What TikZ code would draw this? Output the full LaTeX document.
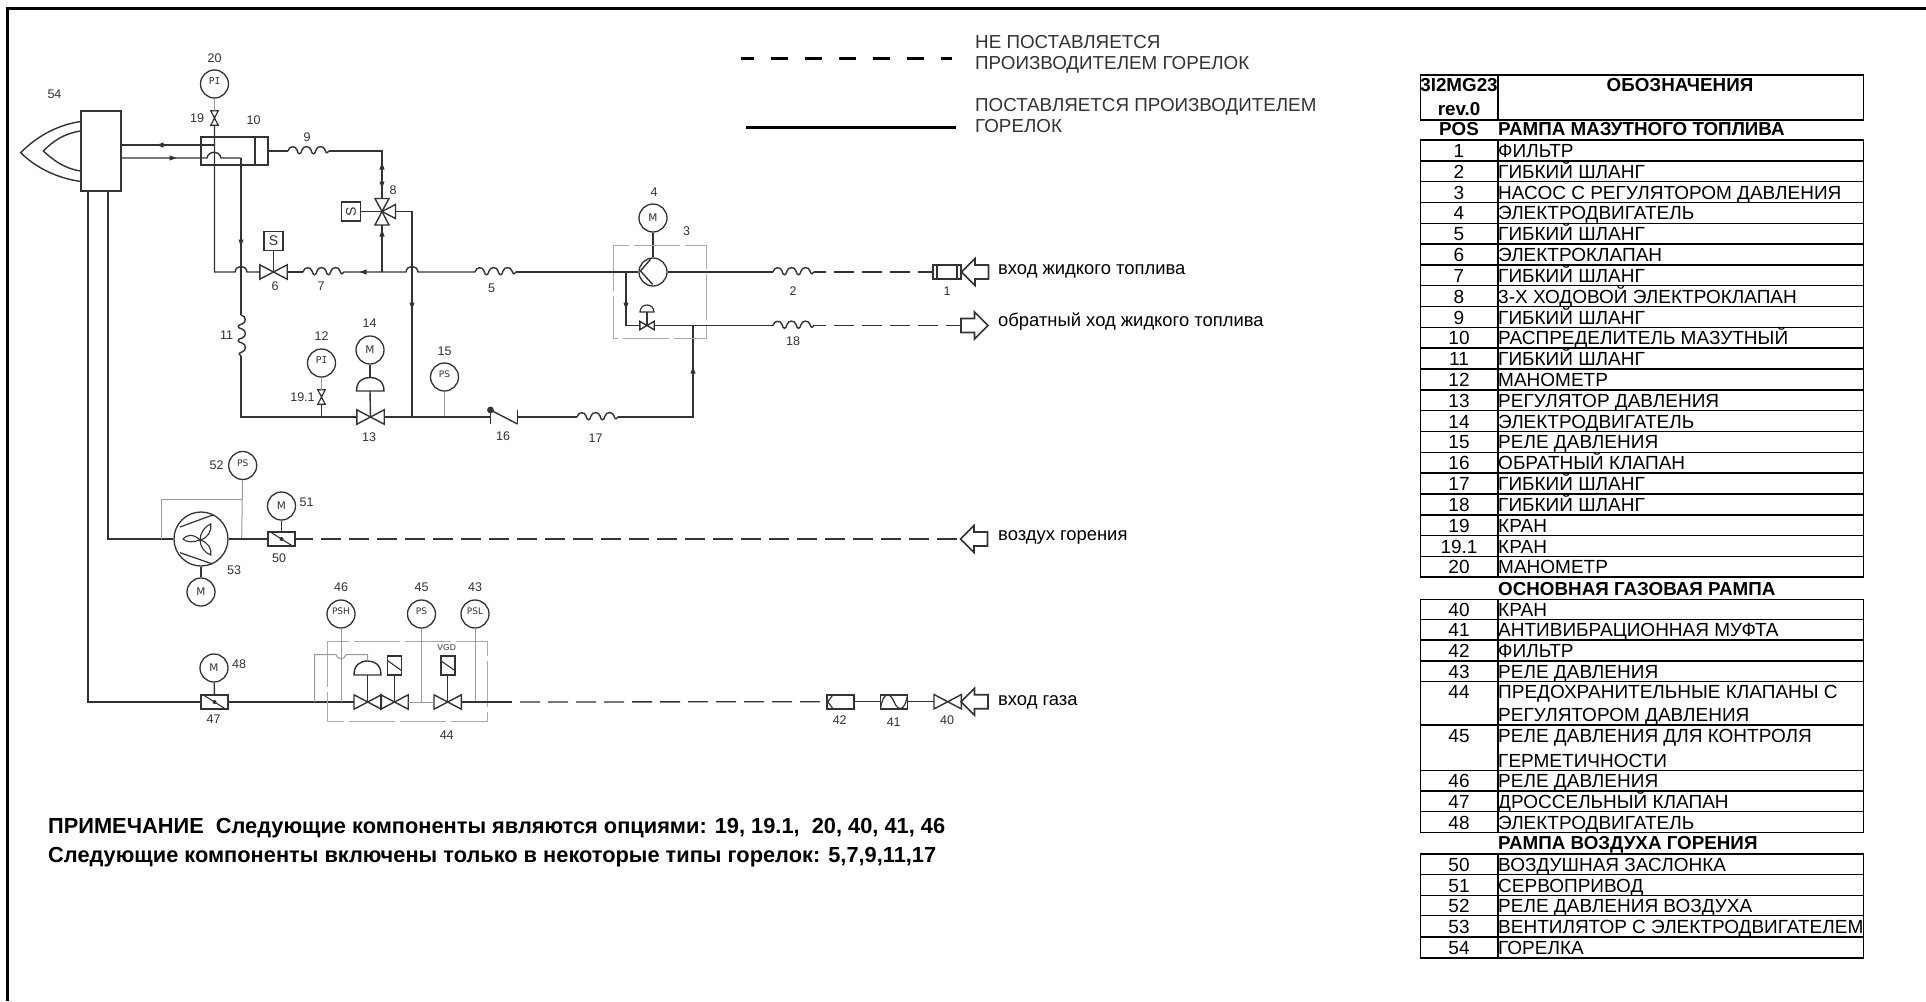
\documentclass[tikz,border=0pt]{standalone}
\usepackage{fontspec}
\setmainfont{Liberation Sans}
\newfontfamily\djv{DejaVu Sans}
\newfontfamily\djm{DejaVu Sans Mono}
\usetikzlibrary{calc}
\definecolor{ink}{HTML}{333333}
\definecolor{thinc}{HTML}{999999}
\definecolor{boxc}{HTML}{AAAAAA}
\tikzset{
 pipe/.style={draw=ink,line width=1.4pt},
 thinl/.style={draw=thinc,line width=1pt},
 boxd/.style={draw=boxc,line width=1pt,dash pattern=on 46pt off 5pt},
 dashl/.style={draw=ink,line width=1.3pt,dash pattern=on 20pt off 8pt},
 lab/.style={inner sep=0pt,text=ink,font=\fontsize{12.5}{14}\selectfont},
 big/.style={inner sep=0pt,anchor=base west,text=black,font=\fontsize{18.4}{20}\selectfont},
 legt/.style={inner sep=0pt,anchor=base west,text=ink,font=\fontsize{18.8}{20}\selectfont},
 notet/.style={inner sep=0pt,anchor=base west,text=black,font=\fontsize{21.8}{24}\selectfont\bfseries},
 tnum/.style={inner sep=0pt,anchor=base,text=black,font=\fontsize{19}{20}\selectfont},
 ttxt/.style={inner sep=0pt,anchor=base west,text=black,font=\fontsize{19}{20}\selectfont},
 tbn/.style={inner sep=0pt,anchor=base,text=black,font=\fontsize{18.8}{20}\selectfont\bfseries},
 tbt/.style={inner sep=0pt,anchor=base west,text=black,font=\fontsize{18.8}{20}\selectfont\bfseries},
 instr/.style={circle,draw=ink,line width=1.3pt,minimum size=28pt,inner sep=0pt,text=ink,fill=white},
 sbox/.style={rectangle,draw=ink,line width=1.4pt,minimum size=19pt,inner sep=0pt,text=ink,font=\fontsize{14}{14}\selectfont},
 dev/.style={rectangle,draw=ink,line width=1.6pt,inner sep=0pt},
 ghost/.style={rectangle,inner sep=0pt},
 tline/.style={draw=black,line width=1.5pt},
}
% labels
\newcommand{\lbl}[4]{\node[lab] (#1) at (#2,#3) {#4};}
% instruments
\newcommand{\mot}[3]{\node[instr,font=\djv\fontsize{10.5}{11}\selectfont] (#1) at (#2,#3) {M};}
\newcommand{\psw}[4]{\node[instr,font=\djv\fontsize{9}{10}\selectfont] (#1) at (#2,#3) {\raisebox{5pt}{#4}};}
\newcommand{\pind}[3]{\node[instr,font=\djm\fontsize{9.5}{10}\selectfont] (#1) at (#2,#3) {\raisebox{5pt}{PI}};}
% horizontal bowtie valve: name,x,y,width,height
\newcommand{\valH}[5]{\node[ghost,minimum width=#4pt,minimum height=#5pt] (#1) at (#2,#3) {};
 \draw[pipe,line join=miter] (#1.north west) -- (#1.south east) -- (#1.north east) -- (#1.south west) -- cycle;}
\newcommand{\valV}[5]{\node[ghost,minimum width=#4pt,minimum height=#5pt] (#1) at (#2,#3) {};
 \draw[pipe,line join=miter,line width=1.2pt] (#1.north west) -- (#1.north east) -- (#1.south west) -- (#1.south east) -- cycle;}
% coil, name,x,y
\newcommand{\coilshape}{(0,0) .. controls (1,-5.5) and (8,-5.5) .. (9,-1) .. controls (10,4) and (13,4) .. (14,-1) .. controls (15,-5.5) and (22,-5.5) .. (23,-1) .. controls (24,4) and (27,4) .. (28,-1) .. controls (29,-5.5) and (36,-5.5) .. (37,-1) .. controls (38,3) and (40,2) .. (41,0)}
\newcommand{\coilH}[3]{\coordinate (#1l) at (#2,#3); \coordinate (#1r) at ({#2+41},#3);
 \begin{scope}[shift={(#2,#3)}]\draw[pipe] \coilshape;\end{scope}}
\newcommand{\coilV}[3]{\coordinate (#1l) at (#2,#3); \coordinate (#1r) at (#2,{#3+41});
 \begin{scope}[shift={(#2,#3)},rotate=-90]\draw[pipe] \coilshape;\end{scope}}
% small filled arrow tip at x,y pointing angle
\newcommand{\tipa}[3]{\begin{scope}[shift={(#1,#2)},rotate=#3]\fill[ink] (3.5,0) -- (-3.5,-2.6) -- (-3.5,2.6) -- cycle;\end{scope}}
% big hollow arrow pointing left, tip at name
\newcommand{\bigin}[3]{\coordinate (#1) at (#2,#3);
 \begin{scope}[shift={(#2,#3)}]\draw[pipe,line width=1.6pt,line join=miter] (0,0) -- (13.5,-13.5) -- (13.5,-7) -- (27,-7) -- (27,7) -- (13.5,7) -- (13.5,13.5) -- cycle;\end{scope}}
% damper
\newcommand{\damper}[3]{\node[dev,minimum width=27pt,minimum height=14pt] (#1) at (#2,#3) {};
 \draw[pipe,line width=1.1pt] (#1.north west) ++(2,0) -- ($(#1.south east)+(-2,0)$);
 \fill[ink] (#1.center) circle (2pt);}
% solenoid
\newcommand{\solen}[3]{\node[dev,minimum width=14pt,minimum height=19pt] (#1) at (#2,#3) {};
 \draw[pipe,line width=1.1pt] ($(#1.center)+(-7,-5)$) -- ($(#1.center)+(7,5)$);}
% hump
\newcommand{\hmp}{.. controls +(1,-7.5) and +(-1,-7.5) ..}
% table rows
\newcommand{\trow}[5]{\draw[tline] (1420.7,#2) rectangle (1863.5,#3); \draw[tline] (1498,#2) -- (1498,#3);
 \node[tnum] (n#1) at (1459,{#3-3.4}) {#4}; \node[ttxt] (t#1) at (1498,{#3-3.4}) {#5};}
\newcommand{\trowii}[6]{\draw[tline] (1420.7,#2) rectangle (1863.5,#3); \draw[tline] (1498,#2) -- (1498,#3);
 \node[tnum] (n#1) at (1459,{#2+17}) {#4}; \node[ttxt] (t#1) at (1498,{#2+17}) {#5}; \node[ttxt] (u#1) at (1498,{#3-3.4}) {#6};}
\begin{document}
\begin{tikzpicture}[x=1pt,y=-1pt]
\useasboundingbox (0,0) rectangle (1926,1001);
\fill[white] (0,0) rectangle (1926,1001);
% frame
\coordinate (fbl) at (7.5,1001); \coordinate (ftl) at (7.5,8.5); \coordinate (ftr) at (1926,8.5);
\draw[black,line width=3pt] (fbl) -- (ftl) -- (ftr);
% legend
\coordinate (lda) at (741,58); \coordinate (ldb) at (952,58);
\coordinate (lsa) at (746,127); \coordinate (lsb) at (956,127);
\draw[black,line width=3pt,dash pattern=on 17.5pt off 16.5pt,dash phase=4.5pt] (lda) -- (ldb);
\draw[black,line width=3pt] (lsa) -- (lsb);
\node[legt] (lg1) at (975,48) {НЕ ПОСТАВЛЯЕТСЯ};
\node[legt] (lg2) at (975,69) {ПРОИЗВОДИТЕЛЕМ ГОРЕЛОК};
\node[legt] (lg3) at (975,111) {ПОСТАВЛЯЕТСЯ ПРОИЗВОДИТЕЛЕМ};
\node[legt] (lg4) at (975,132) {ГОРЕЛОК};
% burner 54
\node[dev,draw=ink,minimum width=40pt,minimum height=80pt] (b54) at (101,151) {};
\coordinate (bo1) at (81,121.5); \coordinate (bo2) at (20.7,152.7); \coordinate (bo3) at (81,181.5);
\coordinate (bi1) at (81,131); \coordinate (bi2) at (43.3,151); \coordinate (bi3) at (81,171);
\draw[pipe] (bo1) .. controls (55,125) and (34,139) .. (bo2) .. controls (34,166) and (55,178) .. (bo3);
\draw[pipe] (bi1) .. controls (65,133) and (53,141) .. (bi2) .. controls (53,160) and (65,169) .. (bi3);
\lbl{l54}{54.5}{94}{54}
% distributor 10
\node[dev,minimum width=67pt,minimum height=28pt] (d10) at (234.5,151) {};
\coordinate (di) at (255,137); \coordinate (dj) at (255,165);
\draw[pipe] (di) -- (dj);
\lbl{l10}{253.5}{120.5}{10}
\coordinate (p145a) at (121,145); \coordinate (p145b) at (214,145);
\coordinate (p158a) at (121,158); \coordinate (h214l) at (207,158); \coordinate (h214r) at (221,158); \coordinate (c241) at (241,158);
\draw[pipe] (p145a) -- (p145b);
\draw[pipe] (p158a) -- (h214l) \hmp (h214r) -- (c241);
\tipa{160}{145}{180}
\tipa{173}{158}{0}
% PI 20 & valve 19
\pind{pi20}{214.5}{84}
\lbl{l20}{214.5}{58}{20}
\valV{v19}{214.5}{118}{7}{14}
\draw[thinl] (pi20) -- (v19);
\lbl{l19}{197}{118}{19}
% vertical x=214 to row y=272
\coordinate (c214) at (214.5,272);
\coordinate (h241l) at (235,272); \coordinate (h241r) at (247,272);
\valH{v6}{273.5}{272}{27}{14}
\draw[pipe] (v19.south) -- (c214) -- (h241l) \hmp (h241r) -- (v6.west);
\node[sbox] (s6) at (273.5,241) {S};
\draw[pipe] (s6) -- (v6.center);
\lbl{l6}{275}{286.5}{6}
\coilH{c7}{303}{272}
\draw[pipe] (v6.east) -- (c7l);
\lbl{l7}{321}{286.5}{7}
\coordinate (j382) at (382,272);
\coordinate (h412l) at (406,272); \coordinate (h412r) at (418,272);
\coilH{c5}{475}{272}
\draw[pipe] (c7r) -- (j382) -- (h412l) \hmp (h412r) -- (c5l);
\tipa{363}{272}{180}
\lbl{l5}{491.5}{288.5}{5}
% coil 9, valve 8
\coilH{c9}{288}{151}
\draw[pipe] (d10.east) -- (c9l);
\lbl{l9}{307}{137}{9}
\coordinate (v8) at (382,211.5);
\coordinate (v8t) at (382,198.5); \coordinate (v8b) at (382,225); \coordinate (v8r) at (395.5,211.5);
\coordinate (c382) at (382,151);
\draw[pipe] (c9r) -- (c382) -- (v8t);
\tipa{382}{166}{90}
\tipa{382}{185}{-90}
\draw[pipe,line join=miter] (v8) -- ($(v8t)+(-7,0)$) -- ($(v8t)+(7,0)$) -- cycle;
\draw[pipe,line join=miter] (v8) -- ($(v8b)+(-7,0)$) -- ($(v8b)+(7,0)$) -- cycle;
\draw[pipe,line join=miter] (v8) -- ($(v8r)+(0,-7)$) -- ($(v8r)+(0,7)$) -- cycle;
\node[sbox,font=\fontsize{14}{14}\selectfont] (s8) at (351,211.5) {\rotatebox{90}{S}};
\draw[pipe] (s8) -- (v8);
\draw[pipe] (j382) -- (v8b);
\tipa{382}{233}{90}
\lbl{l8}{393}{190}{8}
% return via x=412
\coordinate (c412) at (412,211.5); \coordinate (j412) at (412,417);
\draw[pipe] (v8r) -- (c412) -- (j412);
\tipa{412}{306}{-90}
% x=241 down, coil 11
\coordinate (c241b) at (241,315);
\draw[pipe] (c241) -- (c241b);
\tipa{241}{243}{-90}
\coilV{c11}{241}{315}
\coordinate (c241c) at (241,417);
\lbl{l11}{226.5}{335.5}{11}
% bottom line
\valH{v13}{370.5}{417}{27}{14}
\draw[pipe] (c11r) -- (c241c) -- (v13.west);
\mot{m14}{370}{350}
\lbl{l14}{369.5}{323.5}{14}
\coordinate (dm13a) at (356.5,391); \coordinate (dm13b) at (384,391); \coordinate (dm13c) at (370,391); \coordinate (dm13t) at (370,377.5);
\draw[pipe] (m14) -- (dm13t);
\draw[pipe] (dm13a) .. controls (356.5,381) and (363,377.5) .. (dm13t) .. controls (377,377.5) and (384,381) .. (dm13b) -- cycle;
\draw[pipe] (dm13c) -- (v13.center);
\lbl{l13}{369}{437}{13}
\pind{pi12}{321.5}{363}
\lbl{l12}{321.5}{336.5}{12}
\valV{v191}{321.5}{397}{7}{14}
\coordinate (j321) at (321.5,417);
\draw[thinl] (pi12) -- (v191);
\draw[pipe,line width=1.1pt] (v191.south) -- (j321);
\lbl{l191}{302.5}{397}{19.1}
\psw{ps15}{444.5}{377}{PS}
\lbl{l15}{444.5}{351}{15}
\coordinate (j444) at (444.5,417);
\draw[thinl] (ps15) -- (j444);
% check valve 16
\coordinate (k1) at (490.5,410); \coordinate (k1b) at (490.5,424); \coordinate (k2) at (517.5,424); \coordinate (k2t) at (517.5,410);
\coordinate (k1m) at (490.5,417); \coordinate (k2m) at (517.5,417);
\draw[pipe] (v13.east) -- (k1m);
\draw[pipe] (k1) -- (k1b);
\draw[pipe] (k1) -- (k2);
\draw[pipe] (k2t) -- (k2);
\fill[ink] (k1) circle (3.4pt);
\lbl{l16}{503}{436.5}{16}
\coilH{c17}{577}{417}
\draw[pipe] (k2m) -- (c17l);
\lbl{l17}{595.5}{438.5}{17}
\coordinate (c693) at (693,417); \coordinate (j693) at (693,325.5);
\draw[pipe] (c17r) -- (c693) -- (j693);
\tipa{693}{370}{90}
% pump
\node[instr] (p3) at (653,272) {};
\mot{m4}{653}{218}
\draw[pipe] (m4) -- (p3);
\coordinate (pa) at (650.7,259); \coordinate (pb) at (640.5,271); \coordinate (pc) at (652.7,284.5);
\draw[pipe] (pa) -- (pb) -- (pc);
\lbl{l4}{654}{192}{4}
\lbl{l3}{686.5}{231}{3}
\coordinate (bx3a) at (613.5,245); \coordinate (bx3b) at (706.5,338);
\draw[boxd] (bx3a) rectangle (bx3b);
\draw[pipe] (c5r) -- (p3);
\coilH{c2}{773}{272}
\draw[pipe] (p3) -- (c2l);
\lbl{l2}{793}{291}{2}
\coordinate (j626) at (626,272); \coordinate (c626) at (626,325.5);
\valH{v3}{647}{325.5}{14}{8}
\draw[pipe] (j626) -- (c626) -- (v3.west);
\tipa{626}{306}{-90}
\coordinate (dm3a) at (640,312); \coordinate (dm3b) at (654,312); \coordinate (dm3c) at (647,312); \coordinate (dm3t) at (647,305);
\draw[pipe,line width=1.2pt] (dm3a) .. controls (640,308) and (643,305) .. (dm3t) .. controls (651,305) and (654,308) .. (dm3b) -- cycle;
\draw[pipe,line width=1.2pt] (dm3c) -- (v3.center);
\coilH{c18}{773}{325.5}
\draw[pipe] (v3.east) -- (c18l);
\lbl{l18}{793}{341.5}{18}
% filter 1, inlet
\node[dev,minimum width=28pt,minimum height=14pt] (f1) at (947,272) {};
\coordinate (f1a) at (937,265); \coordinate (f1b) at (937,279); \coordinate (f1c) at (957,265); \coordinate (f1d) at (957,279);
\draw[pipe,line width=1.1pt] (f1a) -- (f1b);
\draw[pipe,line width=1.1pt] (f1c) -- (f1d);
\draw[dashl,dash phase=8pt] (c2r) -- (f1.west);
\lbl{l1}{947}{291}{1}
\bigin{a1}{961.5}{272}
\node[big] (t1) at (998,274) {вход жидкого топлива};
% return arrow
\coordinate (a2) at (961,325.5);
\coordinate (a2a) at (974.5,325.5);
\begin{scope}[shift={(a2)}]\draw[pipe,line width=1.6pt,line join=miter] (0,-7) -- (13.5,-7) -- (13.5,-13.5) -- (27,0) -- (13.5,13.5) -- (13.5,7) -- (0,7) -- cycle;\end{scope}
\draw[dashl,dash phase=8pt] (c18r) -- (a2);
\node[big] (t2) at (998,326) {обратный ход жидкого топлива};
% air line
\node[instr,minimum size=54pt] (f53) at (201,539) {};
\coordinate (c108t) at (108,191); \coordinate (c108b) at (108,539);
\draw[pipe] (c108t) -- (c108b) -- (f53);
\coordinate (fa) at (180,527); \coordinate (fb) at (212.7,515); \coordinate (fc) at (180,552.7); \coordinate (fd) at (212.7,564);
\draw[pipe,line width=1.2pt] (fa) -- (fb);
\draw[pipe,line width=1.2pt] (fc) -- (fd);
\coordinate (fz) at (200,540);
\draw[pipe,line width=1.1pt] (fz) .. controls (193,533) and (186,535) .. (183,539) .. controls (187,543) and (194,542) .. (fz);
\draw[pipe,line width=1.1pt] (fz) .. controls (200,533) and (205,526) .. (210.7,524) .. controls (212,531) and (208,538) .. (fz);
\draw[pipe,line width=1.1pt] (fz) .. controls (208,542) and (212,549) .. (210.7,555) .. controls (205,553) and (200,547) .. (fz);
\mot{m53}{201}{592}
\draw[pipe] (f53) -- (m53);
\lbl{l53}{234}{570}{53}
\psw{ps52}{242.7}{465.5}{PS}
\lbl{l52}{216.5}{465.5}{52}
\coordinate (g1) at (161,539); \coordinate (g2) at (161,499.5); \coordinate (g3) at (241.7,499.5); \coordinate (g4) at (241.7,539);
\draw[thinl] (g1) -- (g2) -- (g3);
\draw[thinl] (ps52) -- (g4);
\damper{d50}{281.5}{539}
\draw[pipe] (f53) -- (d50);
\mot{m51}{281.5}{506}
\draw[pipe] (m51) -- (d50);
\lbl{l51}{306.5}{502}{51}
\lbl{l50}{279}{558.5}{50}
\bigin{a3}{960.5}{539}
\draw[dashl,dash phase=3pt] (d50.east) -- (a3);
\node[big] (t3) at (998,540) {воздух горения};
% gas line
\coordinate (c88t) at (88,191); \coordinate (c88b) at (88,702);
\damper{d47}{214.5}{702}
\draw[pipe] (c88t) -- (c88b) -- (d47);
\mot{m48}{214}{668}
\draw[pipe] (m48) -- (d47);
\lbl{l48}{239}{664}{48}
\lbl{l47}{213.5}{719.5}{47}
\valH{va}{367.7}{702}{27}{14}
\valH{vb}{394.5}{702}{27}{14}
\valH{vc}{447.7}{702}{27}{14}
\draw[pipe] (d47) -- (va.west);
\coordinate (daa) at (354,675); \coordinate (dab) at (381,675); \coordinate (dac) at (367.7,675); \coordinate (dat) at (367.7,661);
\draw[pipe] (daa) .. controls (354,665) and (360,661) .. (dat) .. controls (375,661) and (381,665) .. (dab) -- cycle;
\draw[pipe] (dac) -- (va.center);
\solen{sb}{394.5}{665.5}
\draw[pipe] (sb) -- (vb.center);
\solen{sc}{447.7}{665.5}
\draw[pipe] (sc) -- (vc.center);
\node[lab,font=\fontsize{8.5}{9}\selectfont] (lvgd) at (446.7,647.6) {VGD};
\draw[thinl] (vb.east) -- (vc.west);
\coordinate (bx4a) at (327.5,641.3); \coordinate (bx4b) at (487.5,721.7);
\draw[boxd] (bx4a) rectangle (bx4b);
\psw{ps46}{341}{614}{PSH}
\psw{ps45}{421.5}{614}{PS}
\psw{ps43}{475}{614}{PSL}
\lbl{l46}{341}{587}{46}
\lbl{l45}{421.5}{587}{45}
\lbl{l43}{475}{587}{43}
\lbl{l44}{446.7}{735.5}{44}
\coordinate (j341) at (341,702); \coordinate (j421) at (421.5,702); \coordinate (j475) at (475,702);
\draw[thinl] (ps46) -- (j341);
\draw[thinl] (ps45) -- (j421);
\draw[thinl] (ps43) -- (j475);
\coordinate (r1) at (314.7,702); \coordinate (r2) at (314.7,654.7); \coordinate (r3) at (336,654.7); \coordinate (r4) at (346,654.7); \coordinate (r5) at (367.7,654.7); \coordinate (r6) at (367.7,661);
\draw[thinl] (r1) -- (r2) -- (r3) .. controls (337,660) and (345,660) .. (r4) -- (r5) -- (r6);
\coordinate (gs) at (512,702);
\draw[pipe] (vc.east) -- (gs);
\node[dev,minimum width=27pt,minimum height=14pt] (f42) at (840.5,701.7) {};
\coordinate (f42a) at (833,694.7); \coordinate (f42b) at (827.7,701.7); \coordinate (f42c) at (833,708.7);
\draw[pipe,line width=1.2pt] (f42a) -- (f42b) -- (f42c);
\draw[dashl,dash phase=20pt] (gs) -- (f42.west);
\lbl{l42}{839.7}{720}{42}
\node[dev,minimum width=27pt,minimum height=14pt] (f41) at (894,701.7) {};
\coordinate (f41c) at (894,701.7);
\draw[pipe,line width=1.2pt] ($(f41c)+(-13.5,7)$) .. controls ($(f41c)+(-11,-10)$) and ($(f41c)+(-4,-10)$) .. (f41c) .. controls ($(f41c)+(4,10)$) and ($(f41c)+(11,10)$) .. ($(f41c)+(13.5,-7)$);
\draw[pipe] (f42) -- (f41);
\lbl{l41}{893.7}{722}{41}
\valH{v40}{947.7}{701.7}{27}{14}
\draw[thinl,draw=ink] (f41) -- (v40.west);
\lbl{l40}{947}{720}{40}
\bigin{a4}{961}{701.7}
\node[big] (t4) at (998,705.7) {вход газа};
% note
\node[notet] (nt1) at (48,833) {ПРИМЕЧАНИЕ\ \ Следующие компоненты являются опциями: 19, 19.1,\ \ 20, 40, 41, 46};
\node[notet] (nt2) at (48,862.5) {Следующие компоненты включены только в некоторые типы горелок: 5,7,9,11,17};
% table header
\draw[tline] (1420.7,75) rectangle (1863.5,120);
\draw[tline] (1498,75) -- (1498,120);
\node[tbn] (h1) at (1459,91.7) {3I2MG23};
\node[tbn] (h2) at (1459,115.7) {rev.0};
\node[tbn] (h3) at (1680,91.7) {ОБОЗНАЧЕНИЯ};
\node[tbn] (h4) at (1459,135.5) {POS};
\node[tbt] (h5) at (1498,135.5) {РАМПА МАЗУТНОГО ТОПЛИВА};
\trow{1}{140}{160.8}{1}{ФИЛЬТР}
\trow{2}{160.8}{181.6}{2}{ГИБКИЙ ШЛАНГ}
\trow{3}{181.6}{202.5}{3}{НАСОС С РЕГУЛЯТОРОМ ДАВЛЕНИЯ}
\trow{4}{202.5}{223.3}{4}{ЭЛЕКТРОДВИГАТЕЛЬ}
\trow{5}{223.3}{244.1}{5}{ГИБКИЙ ШЛАНГ}
\trow{6}{244.1}{264.9}{6}{ЭЛЕКТРОКЛАПАН}
\trow{7}{264.9}{285.7}{7}{ГИБКИЙ ШЛАНГ}
\trow{8}{285.7}{306.6}{8}{3-Х ХОДОВОЙ ЭЛЕКТРОКЛАПАН}
\trow{9}{306.6}{327.4}{9}{ГИБКИЙ ШЛАНГ}
\trow{10}{327.4}{348.2}{10}{РАСПРЕДЕЛИТЕЛЬ МАЗУТНЫЙ}
\trow{11}{348.2}{369}{11}{ГИБКИЙ ШЛАНГ}
\trow{12}{369}{389.8}{12}{МАНОМЕТР}
\trow{13}{389.8}{410.7}{13}{РЕГУЛЯТОР ДАВЛЕНИЯ}
\trow{14}{410.7}{431.5}{14}{ЭЛЕКТРОДВИГАТЕЛЬ}
\trow{15}{431.5}{452.3}{15}{РЕЛЕ ДАВЛЕНИЯ}
\trow{16}{452.3}{473.1}{16}{ОБРАТНЫЙ КЛАПАН}
\trow{17}{473.1}{493.9}{17}{ГИБКИЙ ШЛАНГ}
\trow{18}{493.9}{514.8}{18}{ГИБКИЙ ШЛАНГ}
\trow{19}{514.8}{535.6}{19}{КРАН}
\trow{191}{535.6}{556.4}{19.1}{КРАН}
\trow{20}{556.4}{577.2}{20}{МАНОМЕТР}
\node[tbt] (h6) at (1498,595) {ОСНОВНАЯ ГАЗОВАЯ РАМПА};
\trow{40}{599.3}{619.5}{40}{КРАН}
\trow{41}{619.5}{640}{41}{АНТИВИБРАЦИОННАЯ МУФТА}
\trow{42}{640}{661}{42}{ФИЛЬТР}
\trow{43}{661}{681.7}{43}{РЕЛЕ ДАВЛЕНИЯ}
\trowii{44}{681.7}{725}{44}{ПРЕДОХРАНИТЕЛЬНЫЕ КЛАПАНЫ С}{РЕГУЛЯТОРОМ ДАВЛЕНИЯ}
\trowii{45}{725}{770.7}{45}{РЕЛЕ ДАВЛЕНИЯ ДЛЯ КОНТРОЛЯ}{ГЕРМЕТИЧНОСТИ}
\trow{46}{770.7}{791}{46}{РЕЛЕ ДАВЛЕНИЯ}
\trow{47}{791}{811.7}{47}{ДРОССЕЛЬНЫЙ КЛАПАН}
\trow{48}{811.7}{832.7}{48}{ЭЛЕКТРОДВИГАТЕЛЬ}
\node[tbt] (h7) at (1498,849.3) {РАМПА ВОЗДУХА ГОРЕНИЯ};
\trow{50}{854}{874.7}{50}{ВОЗДУШНАЯ ЗАСЛОНКА}
\trow{51}{874.7}{895.7}{51}{СЕРВОПРИВОД}
\trow{52}{895.7}{915.7}{52}{РЕЛЕ ДАВЛЕНИЯ ВОЗДУХА}
\trow{53}{915.7}{937}{53}{ВЕНТИЛЯТОР С ЭЛЕКТРОДВИГАТЕЛЕМ}
\trow{54}{937}{958}{54}{ГОРЕЛКА}
\end{tikzpicture}
\end{document}
